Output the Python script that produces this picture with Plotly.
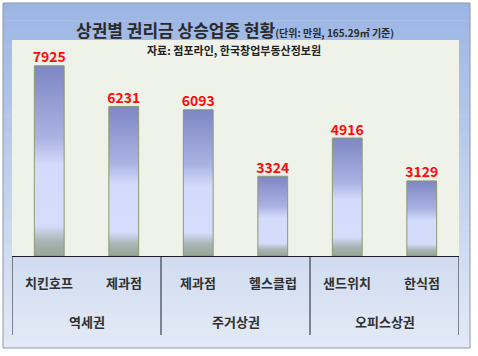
import plotly.graph_objects as go

# ---- data ----
groups = ["역세권", "주거상권", "오피스상권"]
items = ["치킨호프", "제과점", "제과점", "헬스클럽", "샌드위치", "한식점"]
item_group = [0, 0, 1, 1, 2, 2]
values = [7925, 6231, 6093, 3324, 4916, 3129]

title_main = "상권별 권리금 상승업종 현황"
title_unit = "(단위: 만원, 165.29㎡ 기준)"
source = "자료: 점포라인, 한국창업부동산정보원"

W, H = 478, 356
L, R, T, B = 12, 19, 40, 100
PW, PH = W - L - R, H - T - B
FONT = "Noto Sans CJK KR"


def px(x):
    return (x - L) / PW


def py(y):
    return (H - B - y) / PH


def mix(c1, c2, t):
    a = [int(c1[i:i + 2], 16) for i in (1, 3, 5)]
    b = [int(c2[i:i + 2], 16) for i in (1, 3, 5)]
    return "rgb(%d,%d,%d)" % tuple(round(a[k] + (b[k] - a[k]) * t) for k in range(3))


fig = go.Figure()

bar_w = 0.40
grad = [
    [0.0, "#96a594"],
    [0.08, "#aab5b6"],
    [0.16, "#d4ddfb"],
    [0.48, "#d2dbfb"],
    [0.62, "#abb3e3"],
    [1.0, "#7e86c4"],
]
for i, v in enumerate(values):
    fig.add_trace(go.Scatter(
        x=[i - bar_w / 2, i - bar_w / 2, i + bar_w / 2, i + bar_w / 2, i - bar_w / 2],
        y=[0, v, v, 0, 0],
        mode="lines", fill="toself",
        line=dict(color="#8a9b72", width=1),
        fillgradient=dict(type="vertical", colorscale=grad, start=0, stop=v),
        hoverinfo="skip", showlegend=False,
    ))

fig.add_trace(go.Scatter(
    x=list(range(len(values))), y=values, mode="text",
    text=[str(v) for v in values], textposition="top center",
    textfont=dict(family=FONT, size=14, color="#ff0a0a", weight="bold"),
    cliponaxis=False, showlegend=False, hoverinfo="skip",
))

shapes = []
# chart-area gradient background
top_c, bot_c = "#9bb5e4", "#e4eaf6"
y0, y1 = 3, 348
n = 40
for k in range(n):
    ya = y0 + (y1 - y0) * k / n
    yb = y0 + (y1 - y0) * (k + 1) / n + 0.6
    shapes.append(dict(type="rect", xref="paper", yref="paper", layer="below",
                       x0=px(3), x1=px(470), y0=py(ya), y1=py(min(yb, y1)),
                       fillcolor=mix(top_c, bot_c, (k + 0.5) / n), line=dict(width=0)))
# plot area
shapes.append(dict(type="rect", xref="paper", yref="paper", layer="below",
                   x0=0, x1=1, y0=0, y1=1, fillcolor="#eff2e8", line=dict(width=0)))
# frame
shapes.append(dict(type="rect", xref="paper", yref="paper", layer="above",
                   x0=px(3), x1=px(470), y0=py(3), y1=py(348),
                   fillcolor="rgba(0,0,0,0)", line=dict(color="#8d98a8", width=1)))
# group dividers
for xd in [-0.5, 1.5, 3.5, 5.5]:
    shapes.append(dict(type="line", xref="x", yref="paper", x0=xd, x1=xd,
                       y0=0, y1=py(335), line=dict(color="#1c1c2c", width=1)))

annotations = []
lab_font = dict(family=FONT, size=13, color="#303030", weight="bold")
for i, it in enumerate(items):
    annotations.append(dict(x=i, y=py(282), xref="x", yref="paper", text=it,
                            xanchor="center", yanchor="middle",
                            showarrow=False, font=lab_font))
for g, name in enumerate(groups):
    xs = [i for i, gi in enumerate(item_group) if gi == g]
    annotations.append(dict(x=sum(xs) / len(xs), y=py(321), xref="x", yref="paper", text=name,
                            xanchor="center", yanchor="middle",
                            showarrow=False, font=lab_font))
annotations.append(dict(
    x=px(235), y=py(29), xref="paper", yref="paper", showarrow=False,
    xanchor="center", yanchor="middle",
    text=title_main + "<span style='font-size:10px'>" + title_unit + "</span>",
    font=dict(family=FONT, size=17, color="#2a2a2a", weight="bold")))
annotations.append(dict(
    x=px(234), y=py(50), xref="paper", yref="paper", showarrow=False, text=source,
    xanchor="center", yanchor="middle",
    font=dict(family=FONT, size=11, color="#222222", weight="bold")))

fig.update_layout(
    width=W, height=H, margin=dict(l=L, r=R, t=T, b=B),
    paper_bgcolor="white", plot_bgcolor="rgba(0,0,0,0)",
    shapes=shapes, annotations=annotations,
    xaxis=dict(range=[-0.5, 5.5], showgrid=False, zeroline=False, showticklabels=False,
               ticks="", showline=True, linecolor="#1c1c2c", linewidth=1, fixedrange=True),
    yaxis=dict(range=[0, 9000], showgrid=False, zeroline=False, showticklabels=False,
               ticks="", showline=False, fixedrange=True),
    showlegend=False,
)

fig.write_html("out.html", config={"displayModeBar": False},
               post_script="document.body.style.margin='0';document.body.style.overflow='hidden';")
